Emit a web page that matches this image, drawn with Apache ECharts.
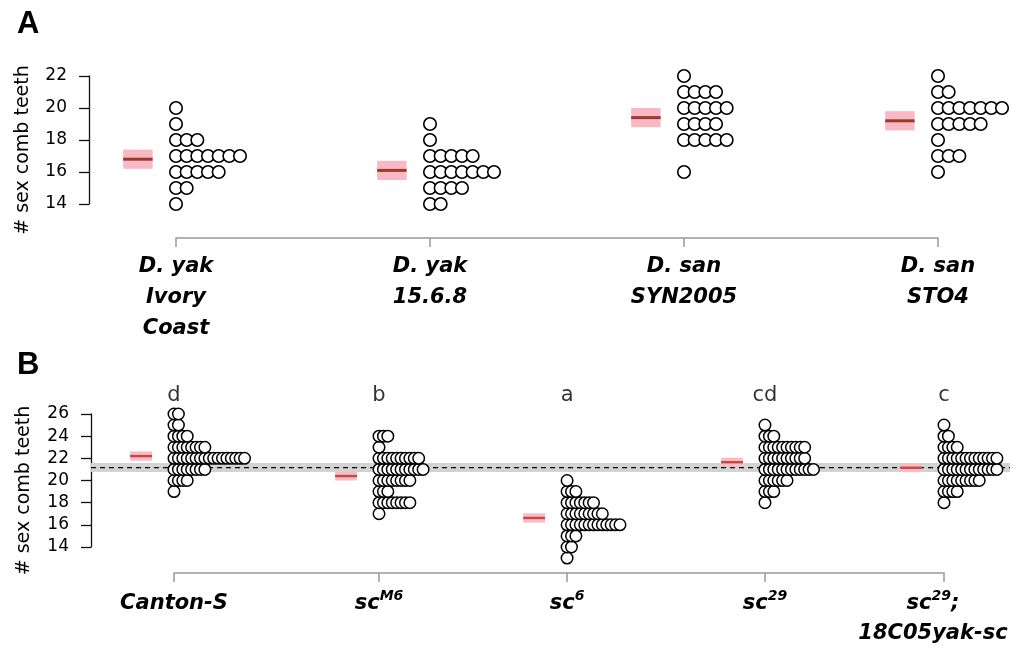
<!DOCTYPE html>
<html>
<head>
<meta charset="utf-8">
<script src="https://cdn.jsdelivr.net/npm/echarts@6/dist/echarts.min.js"></script>
<style>html,body{margin:0;padding:0;background:#fff;}#c{width:1014px;height:652px;}</style>
</head>
<body>
<div id="c"></div>
<script>
// ---------- Panel A data ----------
const categoriesA = ['D. yak\nIvory\nCoast', 'D. yak\n15.6.8', 'D. san\nSYN2005', 'D. san\nSTO4'];
const valuesA = [14, 15, 16, 17, 18, 19, 20, 21, 22];
const countsYakIvoryCoast = [1, 2, 5, 7, 3, 1, 1, 0, 0];
const countsYak1568 = [2, 4, 7, 5, 1, 1, 0, 0, 0];
const countsSanSYN2005 = [0, 0, 1, 0, 5, 4, 5, 4, 1];
const countsSanSTO4 = [0, 0, 1, 3, 1, 5, 7, 2, 1];
const meansA = [16.8, 16.1, 19.4, 19.2];
const ciA = [0.6, 0.6, 0.6, 0.6];

// ---------- Panel B data ----------
const categoriesB = ['Canton-S', 'sc{sup|M6}', 'sc{sup|6}', 'sc{sup|29}', 'sc{sup|29}{pr|;}\n{pr|18C05yak-sc}'];
const lettersB = ['d', 'b', 'a', 'cd', 'c'];
const valuesB = [13, 14, 15, 16, 17, 18, 19, 20, 21, 22, 23, 24, 25, 26];
const countsCantonS = [0, 0, 0, 0, 0, 0, 1, 4, 8, 17, 8, 4, 2, 2];
const countsScM6 = [0, 0, 0, 0, 1, 8, 3, 8, 11, 10, 1, 3, 0, 0];
const countsSc6 = [1, 2, 3, 13, 9, 7, 3, 1, 0, 0, 0, 0, 0, 0];
const countsSc29 = [0, 0, 0, 0, 0, 1, 3, 6, 12, 10, 10, 3, 1, 0];
const countsSc29Yak = [0, 0, 0, 0, 0, 1, 4, 9, 13, 13, 4, 2, 1, 0];
const meansB = [22.2, 20.4, 16.62, 21.65, 21.15];
const ciB = [0.42, 0.4, 0.42, 0.4, 0.4];
const refBandB = [20.77, 21.57];
const refLineB = 21.17;

// ---------- layout (axis positions, not data) ----------
const posA = [1, 2, 3, 4];
const posB = [1, 2.065, 3.042, 4.07, 5];
const dxA = 0.042, dxB = 0.0229;
const meanOffA = -0.15, meanHalfA = 0.058;
const meanOffB = -0.171, meanHalfB = 0.057;
const bandXB = [0.569, 5.343];

function dots(positions, countsList, values, dx) {
  const out = [];
  countsList.forEach((counts, g) => {
    counts.forEach((c, i) => {
      for (let k = 0; k < c; k++) out.push([positions[g] + k * dx, values[i]]);
    });
  });
  return out;
}

function meanRenderer(off, half, boxColor, lineColor, lineW) {
  return function (params, api) {
    const x = api.value(0), m = api.value(1), ci = api.value(2);
    const p1 = api.coord([x + off - half, m + ci]);
    const p2 = api.coord([x + off + half, m - ci]);
    const l1 = api.coord([x + off - half, m]);
    const l2 = api.coord([x + off + half, m]);
    return {
      type: 'group',
      children: [
        { type: 'rect', shape: { x: p1[0], y: p1[1], width: p2[0] - p1[0], height: p2[1] - p1[1] }, style: { fill: boxColor } },
        { type: 'line', shape: { x1: l1[0], y1: l1[1], x2: l2[0], y2: l2[1] }, style: { stroke: lineColor, lineWidth: lineW } }
      ]
    };
  };
}

const fontNum = 'DejaVu Sans';
const fontLab = 'DejaVu Sans';

const yAxisCommon = {
  type: 'value',
  interval: 2,
  splitLine: { show: false },
  axisLine: { show: true, lineStyle: { color: '#111', width: 1.3 } },
  axisTick: { show: true, length: 10, lineStyle: { color: '#111', width: 1.3 } },
  axisLabel: { color: '#000', fontFamily: fontNum, fontSize: 17, margin: 22 },
  name: '# sex comb teeth',
  nameLocation: 'middle',
  nameRotate: 90,
  nameTextStyle: { color: '#000', fontFamily: fontNum, fontSize: 19, padding: [0, 20, 0, 0] }
};

const xLabelCommon = {
  color: '#000',
  fontFamily: fontLab,
  fontSize: 21,
  fontWeight: 'bold',
  fontStyle: 'italic',
  lineHeight: 31
};

const option = {
  animation: false,
  backgroundColor: '#fff',
  title: [
    { text: 'A', left: 12, top: 4, textStyle: { fontFamily: 'Liberation Sans', fontWeight: 'bold', fontSize: 31, color: '#000' } },
    { text: 'B', left: 12, top: 345, textStyle: { fontFamily: 'Liberation Sans', fontWeight: 'bold', fontSize: 31, color: '#000' } }
  ],
  grid: [
    { left: 176, right: 76, top: 76, bottom: 448, outerBoundsMode: 'none', containLabel: false },
    { left: 174, right: 70, top: 414, bottom: 105, outerBoundsMode: 'none', containLabel: false }
  ],
  xAxis: [
    {
      gridIndex: 0, type: 'value', min: 1, max: 4, interval: 1, offset: 34,
      splitLine: { show: false },
      axisLine: { show: true, lineStyle: { color: '#999', width: 1.5 } },
      axisTick: { show: true, length: 9, lineStyle: { color: '#999', width: 1.5 } },
      axisLabel: Object.assign({}, xLabelCommon, {
        margin: 13,
        formatter: v => categoriesA[posA.indexOf(Math.round(v))] || ''
      })
    },
    {
      gridIndex: 1, type: 'value', min: posB[0], max: posB[posB.length - 1], offset: 26,
      splitLine: { show: false },
      axisLine: { show: true, lineStyle: { color: '#999', width: 1.5 } },
      axisTick: { show: true, length: 9, customValues: posB, lineStyle: { color: '#999', width: 1.5 } },
      axisLabel: Object.assign({}, xLabelCommon, {
        margin: 16,
        lineHeight: 30,
        customValues: posB,
        formatter: v => {
          let best = 0;
          posB.forEach((p, i) => { if (Math.abs(p - v) < Math.abs(posB[best] - v)) best = i; });
          return categoriesB[best];
        },
        rich: {
          sup: { fontFamily: fontLab, fontSize: 14, fontWeight: 'bold', fontStyle: 'italic', color: '#000', verticalAlign: 'top', lineHeight: 30 },
          pr: { fontFamily: fontLab, fontSize: 21, fontWeight: 'bold', fontStyle: 'italic', color: '#000', lineHeight: 30, padding: [0, 22, 0, 0] }
        }
      })
    }
  ],
  yAxis: [
    Object.assign({}, yAxisCommon, { gridIndex: 0, min: 14, max: 22, offset: 87, nameGap: 56 }),
    Object.assign({}, yAxisCommon, { gridIndex: 1, min: 14, max: 26, offset: 83, nameGap: 57 })
  ],
  series: [
    {
      type: 'custom', xAxisIndex: 0, yAxisIndex: 0, silent: true, z: 2,
      data: posA.map((p, i) => [p, meansA[i], ciA[i]]),
      renderItem: meanRenderer(meanOffA, meanHalfA, '#f8b9c5', '#9c3a2e', 3)
    },
    {
      type: 'scatter', xAxisIndex: 0, yAxisIndex: 0, silent: true, clip: false, z: 5,
      symbol: 'circle', symbolSize: 12.5,
      itemStyle: { color: '#fff', borderColor: '#000', borderWidth: 1.6, opacity: 1 },
      data: dots(posA, [countsYakIvoryCoast, countsYak1568, countsSanSYN2005, countsSanSTO4], valuesA, dxA)
    },
    {
      type: 'custom', xAxisIndex: 1, yAxisIndex: 1, silent: true, z: 1,
      data: [[bandXB[0], bandXB[1], refBandB[0], refBandB[1], refLineB]],
      renderItem: function (params, api) {
        const p1 = api.coord([api.value(0), api.value(3)]);
        const p2 = api.coord([api.value(1), api.value(2)]);
        const d1 = api.coord([api.value(0), api.value(4)]);
        const d2 = api.coord([api.value(1), api.value(4)]);
        return {
          type: 'group',
          children: [
            { type: 'rect', shape: { x: p1[0], y: p1[1], width: p2[0] - p1[0], height: p2[1] - p1[1] }, style: { fill: '#d3d3d3' } },
            { type: 'line', shape: { x1: d1[0], y1: d1[1], x2: d2[0], y2: d2[1] }, style: { stroke: '#000', lineWidth: 1.2, lineDash: [5, 4] } }
          ]
        };
      }
    },
    {
      type: 'custom', xAxisIndex: 1, yAxisIndex: 1, silent: true, z: 3,
      data: posB.map((p, i) => [p, meansB[i], ciB[i]]),
      renderItem: meanRenderer(meanOffB, meanHalfB, '#f7bcc6', '#c8483e', 2.4)
    },
    {
      type: 'scatter', xAxisIndex: 1, yAxisIndex: 1, silent: true, clip: false, z: 5,
      symbol: 'circle', symbolSize: 11.5,
      itemStyle: { color: '#fff', borderColor: '#000', borderWidth: 1.5, opacity: 1 },
      data: dots(posB, [countsCantonS, countsScM6, countsSc6, countsSc29, countsSc29Yak], valuesB, dxB)
    },
    {
      type: 'scatter', xAxisIndex: 1, yAxisIndex: 1, silent: true, clip: false, z: 6,
      symbolSize: 0,
      data: posB.map(p => [p, 27.7]),
      label: {
        show: true, position: 'inside',
        formatter: p => lettersB[p.dataIndex],
        fontFamily: fontLab, fontSize: 21, color: '#000'
      }
    }
  ]
};

const chart = echarts.init(document.getElementById('c'), null, { renderer: 'canvas' });
chart.setOption(option);
</script>
</body>
</html>
